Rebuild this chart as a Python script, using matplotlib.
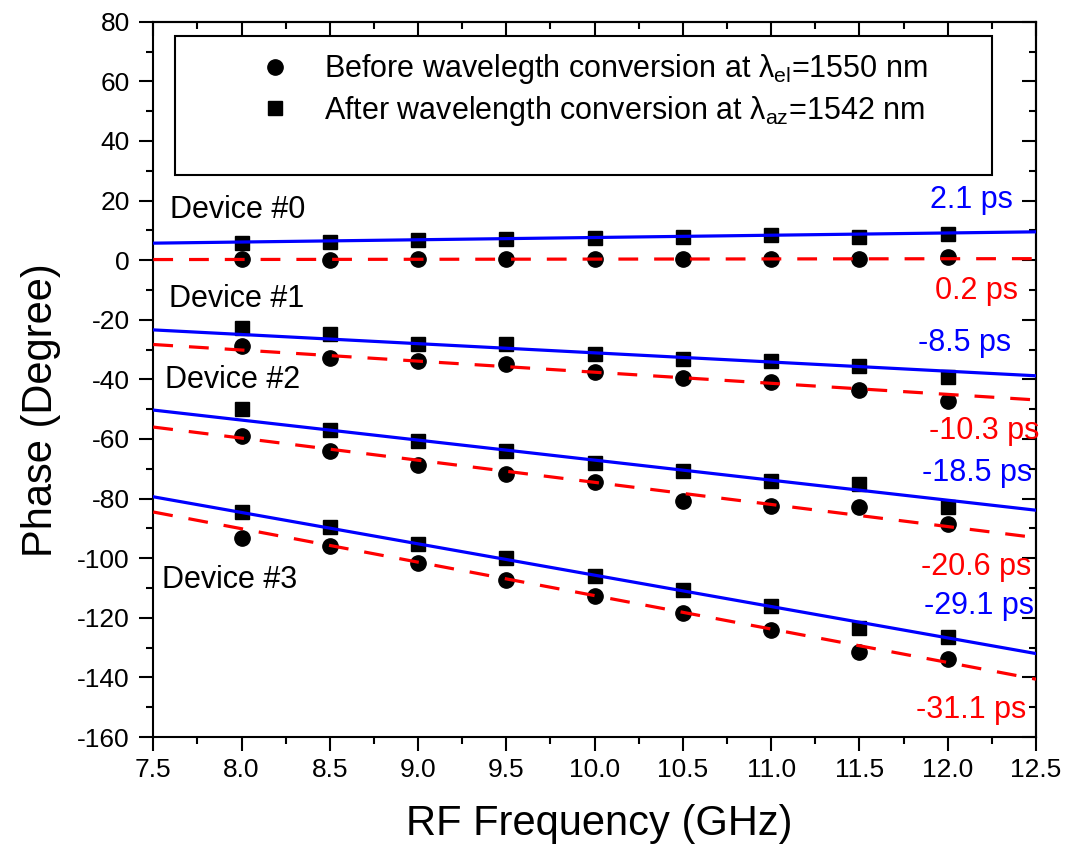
import numpy as np
import matplotlib
matplotlib.use('Agg')
import matplotlib.pyplot as plt
from matplotlib.ticker import MultipleLocator, FormatStrFormatter
from matplotlib.patches import Rectangle

plt.rcParams['font.family'] = ['Liberation Sans', 'DejaVu Sans']
plt.rcParams['mathtext.default'] = 'regular'
plt.rcParams['axes.unicode_minus'] = False

# ---------------- data ----------------
freq = [8.0, 8.5, 9.0, 9.5, 10.0, 10.5, 11.0, 11.5, 12.0]

before_d0 = [0.3, 0.0, 0.3, 0.3, 0.3, 0.4, 0.4, 0.3, 0.9]
after_d0 = [5.9, 6.1, 6.7, 7.0, 7.5, 7.8, 8.6, 7.9, 8.9]
before_d1 = [-28.8, -32.7, -33.8, -34.9, -37.4, -39.4, -40.8, -43.5, -47.2]
after_d1 = [-22.6, -24.8, -28.0, -28.2, -31.5, -33.0, -33.8, -35.5, -39.1]
before_d2 = [-59.0, -64.0, -68.7, -71.8, -74.6, -80.8, -82.4, -82.8, -88.4]
after_d2 = [-50.0, -57.0, -60.6, -64.0, -68.2, -70.7, -74.0, -75.2, -82.8]
before_d3 = [-93.1, -95.9, -101.5, -107.3, -112.6, -118.4, -124.0, -131.6, -133.9]
after_d3 = [-84.4, -89.7, -95.1, -100.1, -105.9, -110.7, -116.0, -123.3, -126.6]

# linear fits (values at the ends of the frequency axis)
fit_x = [7.5, 12.5]
fit_before_d0 = [0.2, 0.5]
fit_after_d0 = [5.7, 9.5]
fit_before_d1 = [-28.3, -46.9]
fit_after_d1 = [-23.4, -38.8]
fit_before_d2 = [-56.0, -93.1]
fit_after_d2 = [-50.3, -83.9]
fit_before_d3 = [-84.5, -140.6]
fit_after_d3 = [-79.4, -132.0]

device_names = ['Device #0', 'Device #1', 'Device #2', 'Device #3']
delay_before = ['0.2 ps', '-10.3 ps', '-20.6 ps', '-31.1 ps']
delay_after = ['2.1 ps', '-8.5 ps', '-18.5 ps', '-29.1 ps']

legend_labels = [r'Before wavelegth conversion at $\lambda_{el}$=1550 nm',
                 r'After wavelength conversion at $\lambda_{az}$=1542 nm']

# ---------------- figure ----------------
fig = plt.figure(figsize=(10.71, 8.58), dpi=100, facecolor='white')
ax = fig.add_axes([0.1431, 0.1410, 0.8242, 0.8337])

befores = [before_d0, before_d1, before_d2, before_d3]
afters = [after_d0, after_d1, after_d2, after_d3]
fits_b = [fit_before_d0, fit_before_d1, fit_before_d2, fit_before_d3]
fits_a = [fit_after_d0, fit_after_d1, fit_after_d2, fit_after_d3]

h_circ = h_sq = None
for b, a, fb, fa in zip(befores, afters, fits_b, fits_a):
    hc, = ax.plot(freq, b, 'o', color='black', ms=11, zorder=3, clip_on=False)
    hs, = ax.plot(freq, a, 's', color='black', ms=9.5, zorder=3, clip_on=False)
    ax.plot(fit_x, fb, color='#ff0000', lw=2.3, dashes=(6.2, 5.0), zorder=4)
    ax.plot(fit_x, fa, color='#0000ff', lw=2.3, zorder=4)
    if h_circ is None:
        h_circ, h_sq = hc, hs

ax.set_xlim(7.5, 12.5)
ax.set_ylim(-160, 80)

# ticks
ax.xaxis.set_major_locator(MultipleLocator(0.5))
ax.xaxis.set_minor_locator(MultipleLocator(0.25))
ax.yaxis.set_major_locator(MultipleLocator(20))
ax.yaxis.set_minor_locator(MultipleLocator(10))
ax.xaxis.set_major_formatter(FormatStrFormatter('%.1f'))
ax.tick_params(which='both', direction='out', width=1.5, top=False, right=False)
ax.tick_params(which='major', length=10)
ax.tick_params(which='minor', length=5)
ax.tick_params(axis='x', labelsize=19, pad=5)
ax.tick_params(axis='y', labelsize=19, pad=7)
for s in ax.spines.values():
    s.set_linewidth(1.5)

secx = ax.secondary_xaxis('top')
secx.xaxis.set_major_locator(MultipleLocator(0.5))
secx.xaxis.set_minor_locator(MultipleLocator(0.25))
secx.tick_params(which='both', direction='in', width=1.5, labeltop=False)
secx.tick_params(which='major', length=10)
secx.tick_params(which='minor', length=5)
secx.spines['top'].set_linewidth(1.5)

secy = ax.secondary_yaxis('right')
secy.yaxis.set_major_locator(MultipleLocator(20))
secy.yaxis.set_minor_locator(MultipleLocator(10))
secy.tick_params(which='both', direction='in', width=1.5, labelright=False)
secy.tick_params(which='major', length=10)
secy.tick_params(which='minor', length=5)
secy.spines['right'].set_linewidth(1.5)

# axis labels
ax.set_xlabel('RF Frequency (GHz)', fontsize=30)
ax.set_ylabel('Phase (Degree)', fontsize=30)
ax.xaxis.set_label_coords(0.505, -0.094)
ax.yaxis.set_label_coords(-0.1046, 0.457)

# device labels
dev_pos = [(7.595, 14.1), (7.59, -15.7), (7.567, -42.9), (7.547, -109.9)]
for name, (x, y) in zip(device_names, dev_pos):
    ax.text(x, y, name, fontsize=22, ha='left', va='baseline', color='black')

# delay labels
after_pos = [(12.368, 17.6), (12.36, -30.4), (12.48, -74.1), (12.49, -118.7)]
before_pos = [(12.396, -13.1), (12.52, -60.0), (12.474, -105.6), (12.446, -153.5)]
for t, (x, y) in zip(delay_after, after_pos):
    ax.text(x, y, t, fontsize=22, ha='right', va='baseline', color='#0000ff')
for t, (x, y) in zip(delay_before, before_pos):
    ax.text(x, y, t, fontsize=22, ha='right', va='baseline', color='#ff0000')

# legend box + legend
ax.add_patch(Rectangle((0.0246, 0.786), 0.9254, 0.194, transform=ax.transAxes,
                       fill=False, lw=1.5, ec='black', zorder=5))
ax.legend([h_circ, h_sq], legend_labels, loc='upper left',
          bbox_to_anchor=(0.1205, 0.957), frameon=False, borderaxespad=0,
          borderpad=0, handlelength=1.0, handletextpad=1.1, labelspacing=0.25,
          fontsize=22)

fig.savefig('out.png', dpi=100, facecolor='white')
